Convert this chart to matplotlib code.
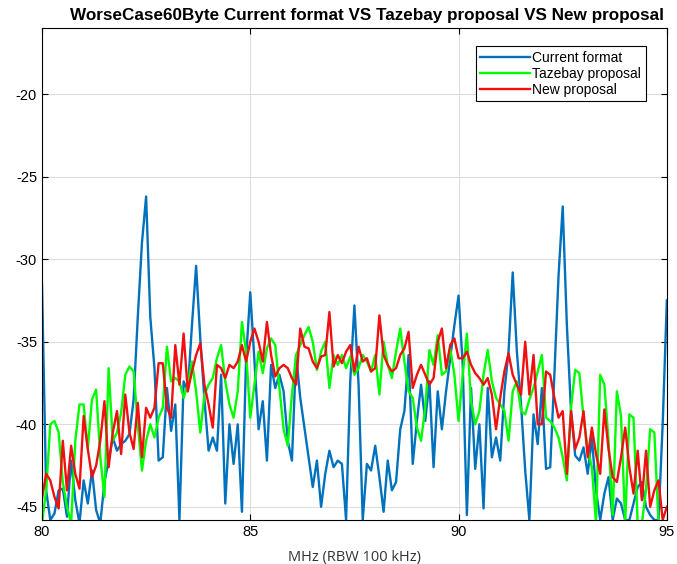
import numpy as np
from matplotlib import pyplot as plt

plt.rcParams['axes.unicode_minus'] = False
plt.rcParams['font.family'] = ['Liberation Sans', 'DejaVu Sans']

# frequency grid, 0.1 MHz steps from 80 to 95
freq = np.round(np.arange(800, 951) / 10.0, 1)

current_format = [
    -31.5, -44.0, -45.8, -45.4, -44.0, -43.9, -45.6, -42.2, -44.6, -46.0,
    -43.4, -44.8, -42.8, -45.2, -46.0, -43.5, -42.2, -40.8, -41.6, -41.2,
    -41.0, -40.6, -38.5, -33.5, -29.0, -26.2, -33.5, -36.6, -42.2, -42.0,
    -37.8, -40.4, -38.8, -45.8, -37.4, -38.0, -34.0, -30.4, -34.8, -38.5,
    -41.6, -40.8, -41.6, -37.0, -44.8, -40.0, -42.4, -40.0, -45.3, -36.0,
    -32.0, -36.2, -40.3, -38.6, -42.2, -36.4, -37.8, -37.0, -38.0, -41.0,
    -42.2, -35.8, -38.4, -40.2, -42.0, -43.8, -42.2, -45.0, -43.0, -41.6,
    -42.6, -42.2, -42.4, -45.8, -37.4, -32.8, -37.6, -45.8, -42.4, -42.8,
    -41.3, -43.2, -45.3, -42.2, -44.0, -43.5, -40.3, -39.2, -35.8, -42.4,
    -39.8, -37.6, -39.8, -37.4, -42.6, -38.0, -40.3, -38.0, -36.0, -34.0,
    -32.2, -36.4, -45.5, -37.8, -42.7, -40.0, -45.1, -37.8, -42.0, -40.8,
    -42.2, -38.0, -35.6, -30.8, -35.6, -38.8, -42.8, -45.8, -39.4, -41.2,
    -37.8, -42.7, -42.6, -37.0, -31.0, -26.8, -34.0, -39.2, -41.9, -42.2,
    -41.4, -43.0, -40.8, -44.0, -45.8, -44.2, -43.2, -45.8, -44.5, -44.8,
    -45.8, -45.8, -44.8, -43.8, -43.5, -45.0, -45.5, -45.8, -45.8, -40.0,
    -32.5,
]

tazebay_proposal = [
    -46.0, -44.0, -40.0, -39.8, -40.5, -43.5, -45.0, -46.0, -41.0, -38.8,
    -38.8, -41.5, -38.5, -37.9, -42.0, -44.4, -36.6, -41.0, -40.5, -39.3,
    -37.0, -36.5, -36.8, -40.0, -42.8, -41.0, -40.0, -40.8, -39.6, -39.0,
    -35.3, -37.4, -37.2, -37.4, -38.4, -37.6, -36.2, -38.0, -40.5, -38.2,
    -37.6, -37.2, -36.0, -35.2, -37.4, -38.8, -39.6, -38.0, -33.8, -35.6,
    -39.6, -37.6, -35.6, -36.9, -35.4, -34.8, -35.2, -37.8, -40.3, -41.3,
    -38.2, -35.8, -35.2, -34.6, -34.1, -35.0, -36.7, -35.6, -35.0, -37.8,
    -35.8, -36.4, -35.8, -36.6, -35.9, -37.0, -36.6, -35.8, -36.2, -36.8,
    -35.8, -38.2, -35.0, -36.4, -37.2, -35.6, -34.2, -36.2, -38.0, -38.4,
    -40.2, -41.0, -39.0, -35.5, -36.4, -34.6, -37.0, -36.8, -35.4, -37.0,
    -39.8, -37.0, -34.5, -38.6, -40.0, -39.2, -37.0, -35.5, -37.4, -38.4,
    -38.8, -39.2, -41.0, -38.0, -37.4, -39.2, -39.4, -38.5, -37.8, -36.8,
    -35.8, -39.6, -39.8, -40.2, -40.8, -42.0, -43.4, -39.0, -36.7, -36.9,
    -39.6, -41.5, -42.6, -46.0, -37.0, -37.6, -41.0, -45.5, -38.0, -39.5,
    -46.0, -39.4, -39.6, -46.0, -46.0, -44.0, -40.3, -40.5, -46.0, -46.0,
    -46.0,
]

new_proposal = [
    -44.5, -43.0, -43.4, -44.4, -45.1, -41.0, -44.0, -41.3, -43.0, -43.9,
    -39.5, -41.5, -43.2, -42.5, -41.0, -38.6, -42.6, -40.5, -39.2, -41.8,
    -38.2, -40.5, -41.5, -38.7, -42.0, -39.0, -39.6, -39.0, -36.3, -36.3,
    -39.0, -39.6, -35.2, -37.6, -34.5, -38.0, -36.8, -35.8, -35.1, -37.6,
    -38.8, -40.2, -36.4, -36.6, -37.2, -36.4, -36.6, -36.2, -35.2, -36.2,
    -35.0, -34.2, -35.0, -36.2, -33.8, -35.8, -37.1, -36.6, -36.4, -36.6,
    -37.2, -37.6, -34.2, -35.3, -35.4, -36.2, -36.6, -35.9, -35.8, -33.2,
    -36.5, -35.8, -36.3, -35.6, -35.2, -36.8, -35.3, -36.2, -36.0, -36.8,
    -36.6, -33.4, -35.8, -36.4, -36.8, -36.6, -35.8, -35.4, -34.4, -37.8,
    -37.0, -36.4, -37.0, -37.6, -37.2, -35.0, -34.2, -36.6, -35.2, -34.8,
    -36.0, -36.0, -35.6, -36.4, -36.9, -37.2, -37.6, -37.2, -38.2, -40.3,
    -38.4, -36.8, -35.7, -37.0, -37.6, -38.2, -35.0, -38.2, -35.8, -40.0,
    -40.0, -36.8, -37.0, -38.4, -39.6, -39.2, -43.0, -39.2, -41.5, -40.8,
    -39.2, -42.0, -40.2, -41.8, -43.0, -39.1, -41.5, -43.2, -43.5, -42.0,
    -40.2, -42.6, -44.2, -41.6, -44.6, -41.6, -45.0, -44.0, -43.4, -45.8,
    -45.0,
]

x_ticks = [80, 85, 90, 95]
y_ticks = [-45, -40, -35, -30, -25, -20]

fig = plt.figure(figsize=(6.77, 5.64), dpi=100)
ax = fig.add_axes([0.062, 0.078, 0.923, 0.872])

ax.plot(freq, current_format, color='#0072BD', lw=1.7, label='Current format')
ax.plot(freq, tazebay_proposal, color='#00FF00', lw=1.7, label='Tazebay proposal')
ax.plot(freq, new_proposal, color='#F01010', lw=1.7, label='New proposal')

ax.set_xlim(80, 95)
ax.set_ylim(-45.8, -16)
ax.set_xticks(x_ticks)
ax.set_yticks(y_ticks)
ax.tick_params(direction='in', top=True, right=True, labelsize=10.5, length=4)
ax.grid(True, color='#dddddd', lw=0.8)
for s in ax.spines.values():
    s.set_linewidth(0.8)

ax.set_title('WorseCase60Byte Current format VS Tazebay proposal VS New proposal',
             fontsize=12.3, fontweight='bold', pad=6, x=0.52)
ax.set_xlabel('MHz (RBW 100 kHz)', fontsize=10.5, family='Open Sans',
              color='#333333', labelpad=8)

leg = ax.legend(loc='upper right', bbox_to_anchor=(0.977, 0.977),
                fancybox=False, edgecolor='black', framealpha=1,
                borderpad=0.3, labelspacing=0.15, handlelength=3.6,
                handletextpad=0.15, prop={'size': 10})
leg.get_frame().set_linewidth(0.8)

plt.savefig('out.png', dpi=100)
